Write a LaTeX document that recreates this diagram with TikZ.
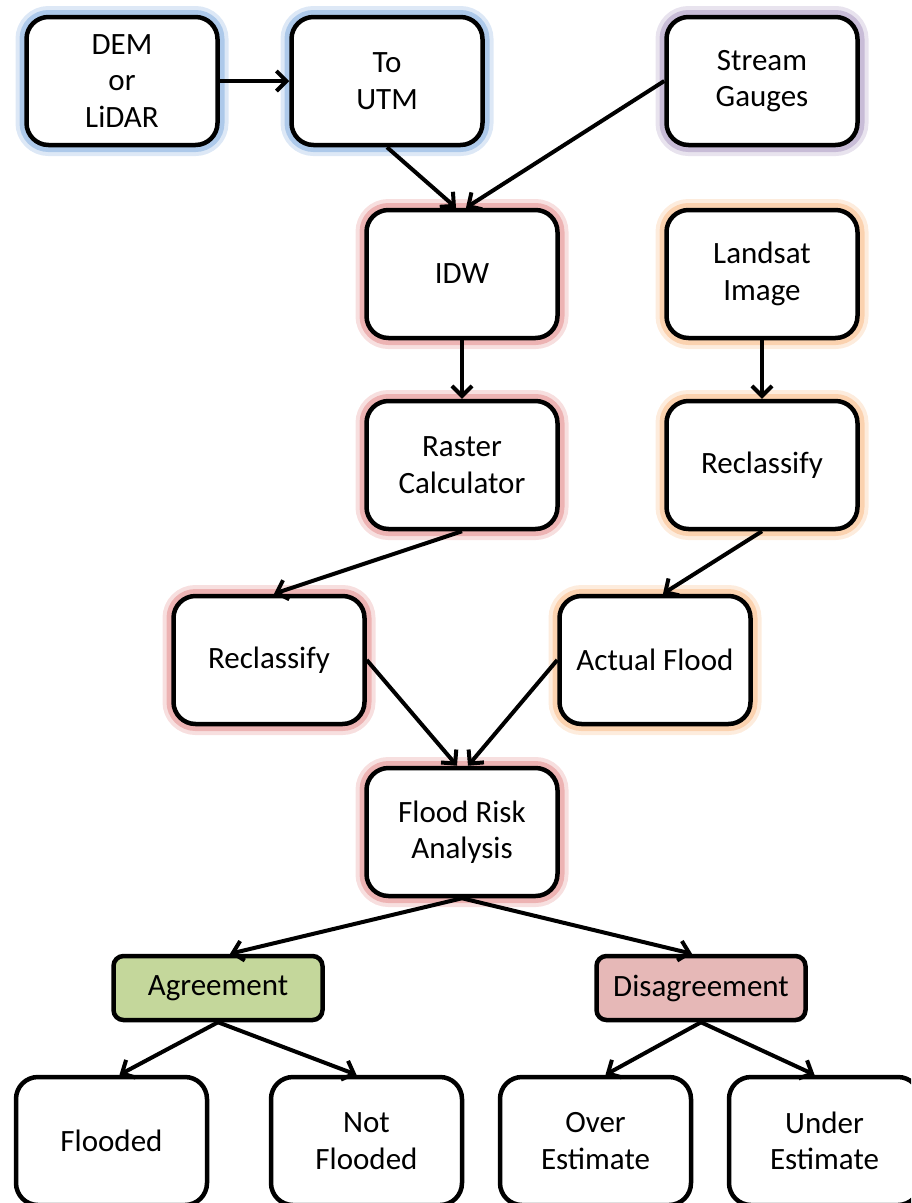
\documentclass[tikz,border=0pt]{standalone}
\usepackage{fontspec}
\setmainfont{Carlito}
\usepackage{tikz}
\usetikzlibrary{arrows.meta}
\definecolor{glowblue}{RGB}{141,180,226}
\definecolor{glowred}{RGB}{230,150,150}
\definecolor{glowpurple}{RGB}{179,162,199}
\definecolor{gloworange}{RGB}{250,192,144}
\definecolor{agreegreen}{RGB}{196,215,155}
\definecolor{disagreered}{RGB}{230,184,183}
\tikzset{
  font={\fontsize{31pt}{36.5pt}\selectfont},
  box/.style={draw, line width=4.5pt, rounded corners=22pt, fill=white, align=center,
    minimum width=191pt, minimum height=128pt, inner sep=0pt},
  glow/.style={preaction={draw=#1, line width=22pt, opacity=0.3},
    preaction={draw=#1, line width=14pt, opacity=0.6}},
  tag/.style={draw, line width=4.5pt, rounded corners=10pt, align=center,
    minimum width=209pt, minimum height=64pt, inner sep=0pt},
  arr/.style={-{Straight Barb[length=10pt,width=20pt]}, line width=4pt}}

\begin{document}
\begin{tikzpicture}[x=1pt,y=1pt]
\useasboundingbox (0,0) rectangle (911,-1203);
\clip (0,0) rectangle (911,-1203);
% inputs
\node [box, glow=glowblue] (dem) at (122,-81) {DEM\\or\\LiDAR};
\node [box, glow=glowblue] (utm) at (387,-81) {To\\UTM};
\node [box, glow=glowpurple] (gauge) at (762,-81) {Stream\\Gauges};
% model side
\node [box, glow=glowred] (idw) at (462,-274) {IDW};
\node [box, glow=glowred] (raster) at (462,-465) {Raster\\Calculator};
\node [box, glow=glowred] (recll) at (269,-660) {Reclassify};
% imagery side
\node [box, glow=gloworange] (landsat) at (762,-274) {Landsat\\Image};
\node [box, glow=gloworange] (reclr) at (762,-465) {Reclassify};
\node [box, glow=gloworange] (actual) at (655,-660) {Actual Flood};
% analysis
\node [box, glow=glowred] (fra) at (462,-832) {Flood Risk\\Analysis};
\node [tag, fill=agreegreen] (agree) at (218,-988) {Agreement};
\node [tag, fill=disagreered] (disagree) at (701,-988) {Disagreement};
\node [box] (flooded) at (111.5,-1141) {Flooded};
\node [box] (notfl) at (366.5,-1141) {Not\\Flooded};
\node [box] (over) at (595.5,-1141) {Over\\Estimate};
\node [box] (under) at (824.5,-1141) {Under\\Estimate};
% connectors
\draw [arr] (dem) -- (utm);
\draw [arr] (utm.south) -- ([xshift=-6pt]idw.north);
\draw [arr] (gauge.west) -- ([xshift=4pt]idw.north);
\draw [arr] (idw) -- (raster);
\draw [arr] (landsat) -- (reclr);
\draw [arr] (raster.south) -- ([xshift=5pt]recll.north);
\draw [arr] (reclr.south) -- ([xshift=8pt]actual.north);
\draw [arr] (recll.east) -- ([xshift=-5pt]fra.north);
\draw [arr] (actual.west) -- ([xshift=6pt]fra.north);
\draw [arr] (fra.south) -- ([xshift=12pt]agree.north);
\draw [arr] (fra.south) -- ([xshift=-9pt]disagree.north);
\draw [arr] (agree.south) -- ([xshift=8pt]flooded.north);
\draw [arr] (agree.south) -- ([xshift=-10pt]notfl.north);
\draw [arr] (disagree.south) -- ([xshift=10pt]over.north);
\draw [arr] (disagree.south) -- ([xshift=-10pt]under.north);
\end{tikzpicture}
\end{document}
